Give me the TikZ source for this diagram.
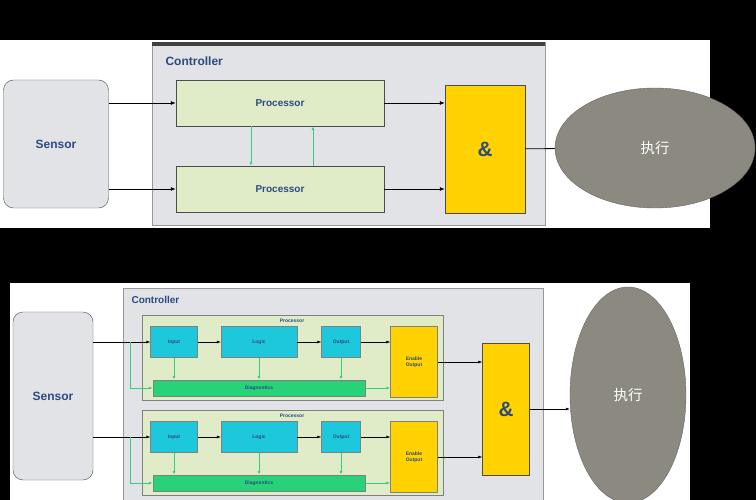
\documentclass[tikz,border=0pt]{standalone}
\usepackage{fontspec}
\setmainfont{Liberation Sans}
\newfontfamily\cjk{Noto Sans CJK SC}
\usetikzlibrary{arrows.meta,positioning,calc,shapes.geometric}
\definecolor{txtblue}{HTML}{2A4A80}
\definecolor{panelgray}{HTML}{E2E3E7}
\definecolor{procgreen}{HTML}{E0ECC8}
\definecolor{gold}{HTML}{FFD200}
\definecolor{cyanbox}{HTML}{1EC8DC}
\definecolor{diaggreen}{HTML}{28D278}
\definecolor{actgray}{HTML}{8C8A80}
\definecolor{linegreen}{HTML}{30D080}

\begin{document}
\begin{tikzpicture}[
    x=1pt, y=-1pt,
    box/.style={rectangle, draw=black!70, inner sep=0pt, align=center, font=\bfseries\color{txtblue}},
    sensor/.style={box, fill=panelgray, rounded corners=10pt, font=\bfseries\large\color{txtblue}},
    proc/.style={box, fill=procgreen, font=\bfseries\color{txtblue}},
    andgate/.style={box, fill=gold, font=\bfseries\huge\color{txtblue}},
    act/.style={ellipse, draw=black!60, fill=actgray, inner sep=0pt, font=\cjk\Large\color{white}},
    small/.style={box, fill=cyanbox, draw=black!50, font=\bfseries\tiny\color{txtblue}},
    diag/.style={box, fill=diaggreen, draw=black!50, font=\bfseries\tiny\color{txtblue}},
    enable/.style={box, fill=gold, draw=black!50, font=\bfseries\tiny\color{txtblue}},
    arrow/.style={-{Latex[length=5pt,width=4pt]}, thick},
    garrow/.style={-{Latex[length=4pt,width=3pt]}, linegreen, thick},
    sarrow/.style={-{Latex[length=4pt,width=3pt]}, semithick}
]
    \fill[black] (0,0) rectangle (756,500);
    \useasboundingbox (0,0) rectangle (756,500);

    % upper diagram
    \fill[white] (0,40) rectangle (710,228);
    \draw[fill=panelgray, draw=black!40] (152,42) rectangle (545,225);
    \fill[black!75] (152,42) rectangle (545,46);
    \node[font=\bfseries\large, text=txtblue, anchor=west] (ctrlA) at (162,61) {Controller};
    \node[sensor, minimum width=105pt, minimum height=128pt] (sensA) at (56,144) {Sensor};
    \node[proc, minimum width=208pt, minimum height=46pt] (procA1) at (280,103) {Processor};
    \node[proc, minimum width=208pt, minimum height=46pt] (procA2) at (280,189) {Processor};
    \node[andgate, minimum width=80pt, minimum height=128pt] (andA) at (485,149) {\&};
    \node[act, minimum width=200pt, minimum height=120pt] (actA) at (655,148) {执行};

    \draw[arrow] (sensA.east |- procA1) -- (procA1);
    \draw[arrow] (sensA.east |- procA2) -- (procA2);
    \draw[arrow] (procA1) -- (andA.west |- procA1);
    \draw[arrow] (procA2) -- (andA.west |- procA2);
    \draw[thick] (andA) -- (actA);
    \draw[garrow] ($(procA1.south)+(-29,0)$) -- ($(procA2.north)+(-29,0)$);
    \draw[garrow] ($(procA2.north)+(33,0)$) -- ($(procA1.south)+(33,0)$);

    % lower diagram
    \fill[white] (10,283) rectangle (690,500);
    \draw[fill=panelgray, draw=black!40] (123,288) rectangle (543,500);
    \node[font=\bfseries, text=txtblue, anchor=west] (ctrlB) at (128,300) {Controller};
    \node[sensor, minimum width=80pt, minimum height=168pt] (sensB) at (53,396) {Sensor};
    \foreach \i/\dy in {1/0, 2/95} {
        \draw[fill=procgreen, draw=black!50] (142,315+\dy) rectangle (443,400+\dy);
        \node[font=\bfseries\tiny, text=txtblue] (plab\i) at (292,321+\dy) {Processor};
        \node[small, minimum width=47pt, minimum height=31pt] (in\i) at (174,342+\dy) {Input};
        \node[small, minimum width=76pt, minimum height=31pt] (logic\i) at (259,342+\dy) {Logic};
        \node[small, minimum width=39pt, minimum height=31pt] (out\i) at (341,342+\dy) {Output};
        \node[enable, minimum width=47pt, minimum height=71pt] (en\i) at (414,362+\dy) {Enable\\Output};
        \node[diag, minimum width=212pt, minimum height=16pt] (diag\i) at (259,388+\dy) {Diagnostics};
        \coordinate (split\i) at (130,342+\dy);
        \draw[sarrow] (sensB.east |- in\i) -- (in\i);
        \draw[garrow] (split\i) |- (diag\i.west);
        \draw[sarrow] (in\i) -- (logic\i);
        \draw[sarrow] (logic\i) -- (out\i);
        \draw[sarrow] (out\i) -- (en\i.west |- out\i);
        \draw[garrow] (in\i) -- (in\i |- diag\i.north);
        \draw[garrow] (logic\i) -- (logic\i |- diag\i.north);
        \draw[garrow] (out\i) -- (out\i |- diag\i.north);
        \draw[garrow] (diag\i) -- (en\i.west |- diag\i);
    }
    \node[andgate, minimum width=47pt, minimum height=132pt, font=\bfseries\huge\color{txtblue}] (andB) at (506,409) {\&};
    \node[act, minimum width=116pt, minimum height=216pt] (actB) at (628,395) {执行};
    \draw[sarrow] (en1) -- (andB.west |- en1);
    \draw[sarrow] (en2) -- (andB.west |- en2);
    \draw[sarrow] (andB) -- (actB.west |- andB);
\end{tikzpicture}
\end{document}
